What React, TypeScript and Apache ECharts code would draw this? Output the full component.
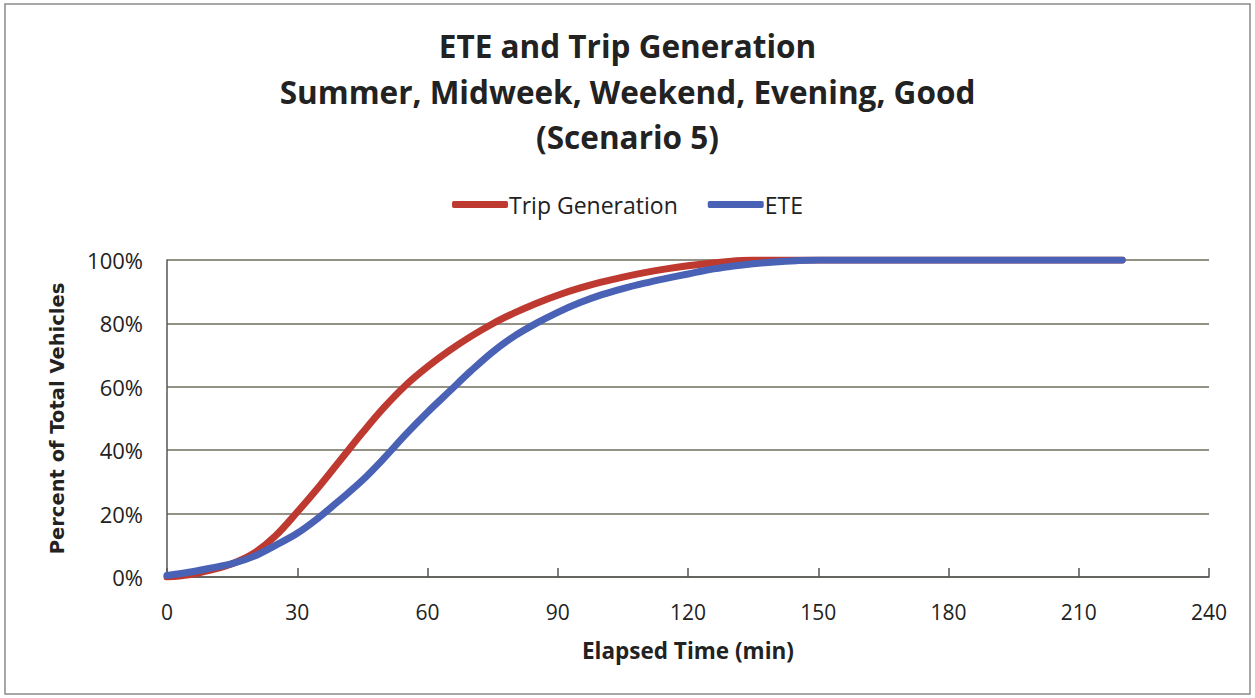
import React, { useEffect, useRef } from "react";
import * as echarts from "echarts";

const titleLines = ["ETE and Trip Generation", "Summer, Midweek, Weekend, Evening, Good", "(Scenario 5)"];
const xTicks = [0, 30, 60, 90, 120, 150, 180, 210, 240];

const tripTimes = [0, 5, 10, 15, 20, 25, 30, 35, 40, 45, 50, 55, 60, 65, 70, 75, 80, 85, 90, 95, 100, 105, 110, 115, 120, 125, 130, 135, 140, 160, 180, 200, 220];
const tripValues = [0, 0.7, 2.2, 4.2, 7.5, 13, 20.5, 28.5, 37, 45.5, 53.5, 60.5, 66.3, 71.4, 75.9, 79.9, 83.3, 86.3, 88.9, 91.1, 93, 94.6, 96, 97.2, 98.2, 99, 99.6, 100, 100, 100, 100, 100, 100];

const eteTimes = [0, 5, 10, 15, 20, 25, 30, 35, 40, 45, 50, 55, 60, 65, 70, 75, 80, 85, 90, 95, 100, 105, 110, 115, 120, 125, 130, 135, 140, 145, 150, 160, 180, 200, 220];
const eteValues = [0.5, 1.5, 2.8, 4.2, 6.5, 10, 13.8, 18.8, 24.5, 30.5, 37.5, 45, 52, 58.5, 65, 71, 76, 80, 83.5, 86.5, 89, 91, 92.7, 94.2, 95.6, 97, 98, 98.8, 99.4, 99.8, 100, 100, 100, 100, 100];

const FONT = "'Open Sans', 'Noto Sans', sans-serif";

export default function App() {
  const ref = useRef<HTMLDivElement>(null);
  useEffect(() => {
    if (!ref.current) return;
    const chart = echarts.init(ref.current, null, { renderer: "svg" });
    const trip = tripTimes.map((t, i) => [t, tripValues[i]]);
    const ete = eteTimes.map((t, i) => [t, eteValues[i]]);
    chart.setOption({
      animation: false,
      backgroundColor: "#ffffff",
      title: {
        text: titleLines.join("\n"),
        left: "center",
        top: 18,
        textStyle: { fontFamily: FONT, fontSize: 31.5, fontWeight: "bold", color: "#222", lineHeight: 45.5 },
      },
      legend: {
        top: 188,
        left: "center",
        icon: "roundRect",
        itemWidth: 56,
        itemHeight: 7,
        itemGap: 30,
        textStyle: { fontFamily: FONT, fontSize: 23, color: "#222", padding: [0, 0, 0, -4] },
        data: ["Trip Generation", "ETE"],
      },
      graphic: [
        {
          type: "rect",
          shape: { x: 5, y: 4, width: 1245, height: 690 },
          style: { fill: "none", stroke: "#8a8a8a", lineWidth: 1.5 },
          silent: true,
        },
      ],
      grid: { left: 167, right: 46, top: 260, bottom: 121 },
      xAxis: {
        type: "value",
        min: 0,
        max: 240,
        interval: 30,
        name: "Elapsed Time (min)",
        nameLocation: "middle",
        nameGap: 62,
        nameTextStyle: { fontFamily: FONT, fontSize: 22.5, fontWeight: "bold", color: "#222" },
        axisLine: { show: true, lineStyle: { color: "#555", width: 1.5 } },
        axisTick: { show: true, inside: true, length: 9, lineStyle: { color: "#555", width: 1.5 } },
        axisLabel: {
          fontFamily: FONT,
          fontSize: 21,
          color: "#222",
          margin: 24,
          formatter: (v: number) => (xTicks.includes(v) ? String(v) : ""),
        },
        splitLine: { show: false },
      },
      yAxis: {
        type: "value",
        min: 0,
        max: 100,
        interval: 20,
        name: "Percent of Total Vehicles",
        nameLocation: "middle",
        nameGap: 100,
        nameTextStyle: { fontFamily: "'DejaVu Sans', Verdana, sans-serif", fontSize: 19.5, fontWeight: "bold", color: "#222" },
        axisLine: { show: true, lineStyle: { color: "#555", width: 1.5 } },
        axisTick: { show: false },
        axisLabel: { fontFamily: FONT, fontSize: 22, color: "#222", margin: 24, formatter: "{value}%" },
        splitLine: { show: true, lineStyle: { color: "#6e6e5e", width: 1.5 } },
      },
      series: [
        {
          name: "Trip Generation",
          type: "line",
          data: trip,
          smooth: 0.35,
          symbol: "none",
          lineStyle: { color: "#BE3A30", width: 7, cap: "round" },
          itemStyle: { color: "#BE3A30" },
        },
        {
          name: "ETE",
          type: "line",
          data: ete,
          smooth: 0.35,
          symbol: "none",
          lineStyle: { color: "#4A62B6", width: 7, cap: "round" },
          itemStyle: { color: "#4A62B6" },
        },
      ],
    });
    return () => chart.dispose();
  }, []);
  return <div ref={ref} style={{ position: "absolute", left: 0, top: 0, width: 1255, height: 698 }} />;
}
